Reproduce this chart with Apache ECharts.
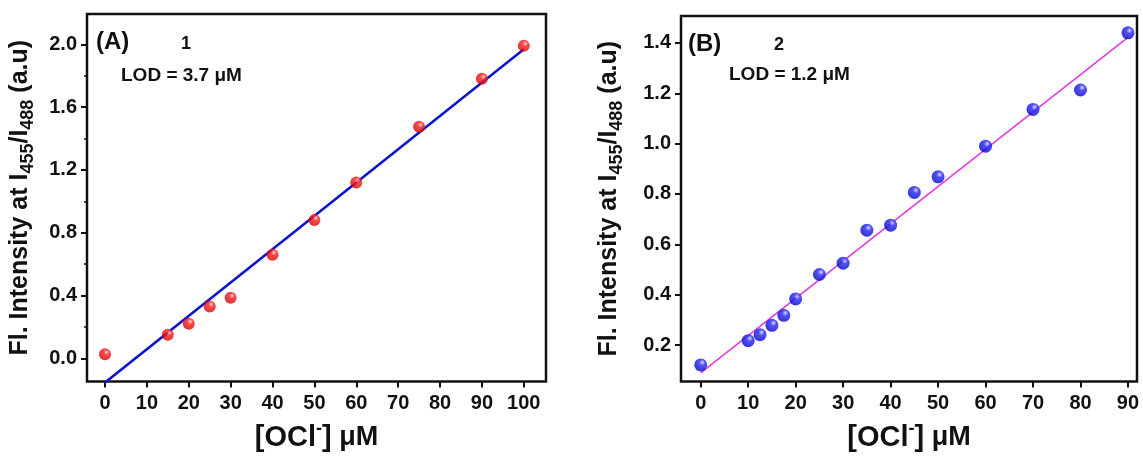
<!DOCTYPE html>
<html>
<head>
<meta charset="utf-8">
<script src="https://cdn.jsdelivr.net/npm/echarts@6/dist/echarts.min.js"></script>
<style>
html,body{margin:0;padding:0;background:#fff;}
#c{width:1143px;height:457px;}
</style>
</head>
<body>
<div id="c"></div>
<script>
// ---------- Data ----------
// Panel A (probe 1)
const xA = [0, 15, 20, 25, 30, 40, 50, 60, 75, 90, 100];
const yA = [0.025, 0.15, 0.22, 0.33, 0.385, 0.66, 0.88, 1.12, 1.475, 1.78, 1.99];
const fitA = [[0, -0.155], [100, 1.968]];
const xTicksA = [0, 10, 20, 30, 40, 50, 60, 70, 80, 90, 100];
const yTicksA = [0.0, 0.4, 0.8, 1.2, 1.6, 2.0];
const yMinorA = [0.2, 0.6, 1.0, 1.4, 1.8];
const labelA = '(A)', probeA = '1', lodA = 'LOD = 3.7 μM';

// Panel B (probe 2)
const xB = [0, 10, 12.5, 15, 17.5, 20, 25, 30, 35, 40, 45, 50, 60, 70, 80, 90];
const yB = [0.121, 0.217, 0.241, 0.278, 0.318, 0.383, 0.48, 0.525, 0.656, 0.676, 0.806, 0.868, 0.99, 1.136, 1.213, 1.44];
const fitB = [[0, 0.089], [90, 1.422]];
const xTicksB = [0, 10, 20, 30, 40, 50, 60, 70, 80, 90];
const yTicksB = [0.2, 0.4, 0.6, 0.8, 1.0, 1.2, 1.4];
const labelB = '(B)', probeB = '2', lodB = 'LOD = 1.2 μM';

// ---------- Styles ----------
const FONT = '"Liberation Sans", Arial, sans-serif';
const yName = '{t|Fl. Intensity at I}{s|455}{t|/I}{s|488}{t| (a.u)}';
const xName = '{t|[OCl}{p|-}{t|]}{m| μM}';
const yRich = {
  t: {fontSize: 25, fontWeight: 'bold', fontFamily: FONT, color: '#111', lineHeight: 33},
  s: {fontSize: 18, fontWeight: 'bold', fontFamily: FONT, color: '#111', verticalAlign: 'bottom', lineHeight: 33}
};
const xRich = {
  t: {fontSize: 29, fontWeight: 'bold', fontFamily: FONT, color: '#111', lineHeight: 34},
  m: {fontSize: 27, fontWeight: 'bold', fontFamily: FONT, color: '#111', lineHeight: 34},
  p: {fontSize: 18, fontWeight: 'bold', fontFamily: FONT, color: '#111', verticalAlign: 'top', lineHeight: 34}
};
const tickLbl = {fontSize: 20, fontWeight: 'bold', fontFamily: FONT, color: '#111'};

function sphere(light, mid, dark) {
  return {
    type: 'radial', x: 0.62, y: 0.32, r: 0.75,
    colorStops: [{offset: 0, color: light}, {offset: 0.3, color: mid}, {offset: 1, color: dark}]
  };
}

function xAxisCfg(gridIndex, min, max, ticks) {
  return {
    type: 'value', gridIndex, min, max, position: 'bottom',
    axisLine: {show: false, onZero: false},
    axisTick: {show: true, inside: false, length: 6, lineStyle: {color: '#111', width: 2}, customValues: ticks},
    axisLabel: Object.assign({margin: 12, customValues: ticks, formatter: v => String(v)}, tickLbl),
    splitLine: {show: false},
    name: xName, nameLocation: 'middle', nameGap: 39,
    nameTextStyle: {rich: xRich}
  };
}
function yAxisCfg(gridIndex, min, max, ticks, gap) {
  return {
    type: 'value', gridIndex, min, max, position: 'left',
    axisLine: {show: false, onZero: false},
    axisTick: {show: true, inside: false, length: 6, lineStyle: {color: '#111', width: 2}, customValues: ticks},
    axisLabel: Object.assign({margin: 10, customValues: ticks, formatter: v => v.toFixed(1)}, tickLbl),
    splitLine: {show: false},
    name: yName, nameLocation: 'middle', nameGap: gap, nameRotate: 90,
    nameTextStyle: {rich: yRich}
  };
}

const chart = echarts.init(document.getElementById('c'), null, {renderer: 'canvas'});
const option = {
  backgroundColor: '#ffffff',
  animation: false,
  grid: [
    {left: 87, top: 14, width: 459, height: 369, show: true, borderColor: '#111', borderWidth: 2.5, backgroundColor: 'transparent'},
    {left: 681, top: 16, width: 456, height: 369, show: true, borderColor: '#111', borderWidth: 2.5, backgroundColor: 'transparent'}
  ],
  xAxis: [
    xAxisCfg(0, -4.3, 105.3, xTicksA),
    xAxisCfg(1, -4.15, 91.9, xTicksB)
  ],
  yAxis: [
    yAxisCfg(0, -0.148, 2.193, yTicksA, 50),
    yAxisCfg(1, 0.055, 1.507, yTicksB, 55),
    {
      type: 'value', gridIndex: 0, min: -0.148, max: 2.193, position: 'left', offset: 0,
      axisLine: {show: false, onZero: false},
      axisTick: {show: true, length: 3, lineStyle: {color: '#111', width: 1.5}, customValues: yMinorA},
      axisLabel: {show: false}, splitLine: {show: false}
    }
  ],
  series: [
    {
      type: 'line', xAxisIndex: 0, yAxisIndex: 0,
      data: fitA, showSymbol: false, symbol: 'none', clip: true,
      lineStyle: {color: '#0a14d2', width: 2.5}, z: 2
    },
    {
      type: 'scatter', xAxisIndex: 0, yAxisIndex: 0,
      data: xA.map((x, i) => [x, yA[i]]),
      symbolSize: 12,
      itemStyle: {color: sphere('#ffd8d8', '#ff1a1a', '#c80000')}, z: 3
    },
    {
      type: 'line', xAxisIndex: 1, yAxisIndex: 1,
      data: fitB, showSymbol: false, symbol: 'none', clip: true,
      lineStyle: {color: '#e03ce0', width: 1.6}, z: 2
    },
    {
      type: 'scatter', xAxisIndex: 1, yAxisIndex: 1,
      data: xB.map((x, i) => [x, yB[i]]),
      symbolSize: 13,
      itemStyle: {color: sphere('#d8d8ff', '#2424ff', '#0000b4')}, z: 3
    }
  ],
  graphic: [
    {type: 'text', left: 96, top: 30, style: {text: labelA, font: 'bold 24px ' + FONT, fill: '#111'}},
    {type: 'text', left: 181, top: 35, style: {text: probeA, font: 'bold 18px ' + FONT, fill: '#111'}},
    {type: 'text', left: 121, top: 66, style: {text: lodA, font: 'bold 19px ' + FONT, fill: '#111'}},
    {type: 'text', left: 688, top: 32, style: {text: labelB, font: 'bold 24px ' + FONT, fill: '#111'}},
    {type: 'text', left: 774, top: 36, style: {text: probeB, font: 'bold 18px ' + FONT, fill: '#111'}},
    {type: 'text', left: 729, top: 65, style: {text: lodB, font: 'bold 19px ' + FONT, fill: '#111'}}
  ]
};
chart.setOption(option);
</script>
</body>
</html>
